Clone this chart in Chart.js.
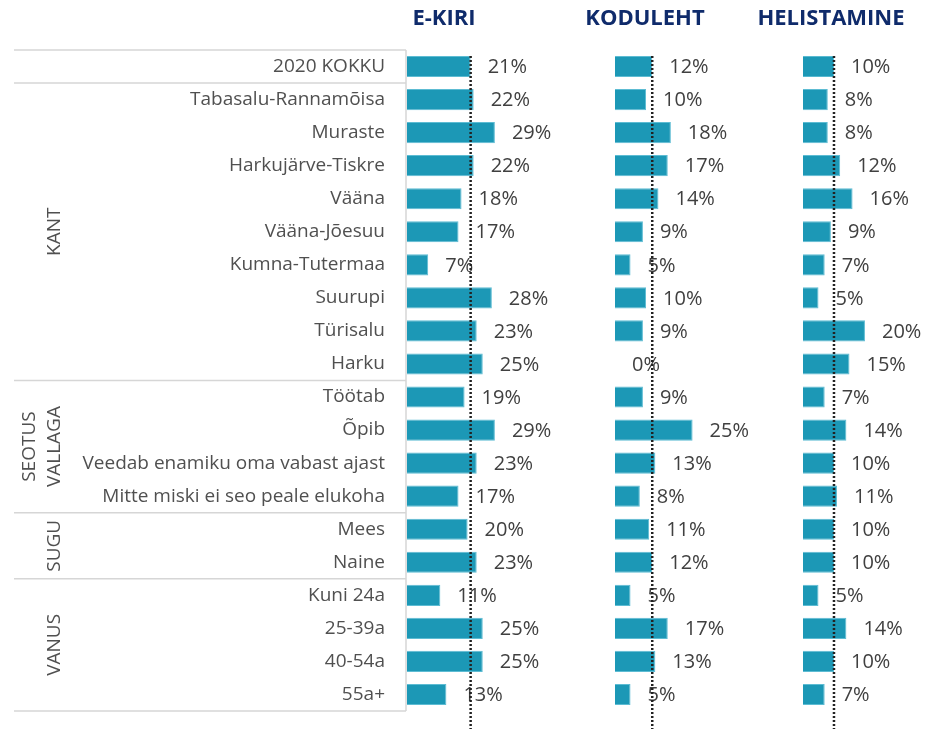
<!DOCTYPE html>
<html>
<head>
<meta charset="utf-8">
<script src="https://cdn.jsdelivr.net/npm/chart.js@4.4.1/dist/chart.umd.min.js"></script>
<style>
  html, body { margin: 0; padding: 0; background: #fff; }
  #wrap { position: relative; width: 926px; height: 729px; }
  #wrap canvas { position: absolute; left: 0; top: 0; }
</style>
</head>
<body>
<div id="wrap">
  <canvas id="c1" width="926" height="729"></canvas>
  <canvas id="c2" width="926" height="729"></canvas>
  <canvas id="c3" width="926" height="729"></canvas>
</div>
<script>
// --- data ---
const categories = ['2020 KOKKU', 'Tabasalu-Rannamõisa', 'Muraste', 'Harkujärve-Tiskre', 'Vääna',
  'Vääna-Jõesuu', 'Kumna-Tutermaa', 'Suurupi', 'Türisalu', 'Harku', 'Töötab', 'Õpib',
  'Veedab enamiku oma vabast ajast', 'Mitte miski ei seo peale elukoha', 'Mees', 'Naine',
  'Kuni 24a', '25-39a', '40-54a', '55a+'];
const eKiri      = [21, 22, 29, 22, 18, 17, 7, 28, 23, 25, 19, 29, 23, 17, 20, 23, 11, 25, 25, 13];
const koduleht   = [12, 10, 18, 17, 14, 9, 5, 10, 9, 0, 9, 25, 13, 8, 11, 12, 5, 17, 13, 5];
const helistamine = [10, 8, 8, 12, 16, 9, 7, 5, 20, 15, 7, 14, 10, 11, 10, 10, 5, 14, 10, 7];
const groupNames = [['KANT'], ['SEOTUS', 'VALLAGA'], ['SUGU'], ['VANUS']];
const groupStart = [1, 10, 14, 16];
const groupEnd   = [9, 13, 15, 19];

const barColor = '#1c98b6';
const barEdge = '#5dbcd3';
const fontFamily = '"Open Sans", "Noto Sans", sans-serif';

// title + value labels + dotted total line
const panelDecor = {
  id: 'panelDecor',
  afterDatasetsDraw(chart, args, opts) {
    const ctx = chart.ctx;
    const area = chart.chartArea;
    const meta = chart.getDatasetMeta(0);
    const values = chart.data.datasets[0].data;
    ctx.save();
    // title
    ctx.font = 'bold 22px ' + fontFamily;
    ctx.fillStyle = '#0f2b6b';
    ctx.textAlign = 'center';
    ctx.textBaseline = 'middle';
    ctx.fillText(opts.title, area.left + opts.titleX, 19);
    // value labels
    ctx.font = '20px ' + fontFamily;
    ctx.fillStyle = '#404040';
    ctx.textAlign = 'left';
    meta.data.forEach((bar, i) => {
      ctx.fillText(values[i] + '%', bar.x + 17, bar.y + 1);
    });
    // dotted line at total value
    const x = chart.scales.x.getPixelForValue(values[0]);
    ctx.strokeStyle = '#222';
    ctx.lineWidth = 2.5;
    ctx.setLineDash([2, 2]);
    ctx.beginPath();
    ctx.moveTo(x, area.top + 6);
    ctx.lineTo(x, chart.height);
    ctx.stroke();
    ctx.restore();
  }
};

// table lines and rotated group labels on the left
const tableDecor = {
  id: 'tableDecor',
  afterDraw(chart, args, opts) {
    if (!opts.show) return;
    const ctx = chart.ctx;
    const area = chart.chartArea;
    const y = chart.scales.y;
    const half = (y.getPixelForValue(1) - y.getPixelForValue(0)) / 2;
    const edge = i => y.getPixelForValue(i) + half;
    ctx.save();
    ctx.strokeStyle = '#d6d6d6';
    ctx.lineWidth = 1.5;
    const lines = [area.top, edge(0)].concat(groupEnd.map(edge));
    ctx.beginPath();
    lines.forEach(ly => { ctx.moveTo(14, ly); ctx.lineTo(area.left - 1, ly); });
    ctx.moveTo(area.left - 1, area.top);
    ctx.lineTo(area.left - 1, edge(categories.length - 1));
    ctx.stroke();

    ctx.font = '19px ' + fontFamily;
    ctx.fillStyle = '#505050';
    ctx.textAlign = 'center';
    ctx.textBaseline = 'middle';
    groupNames.forEach((name, g) => {
      const cy = (y.getPixelForValue(groupStart[g]) + y.getPixelForValue(groupEnd[g])) / 2;
      name.forEach((line, k) => {
        const cx = 55 - (name.length - 1 - k) * 25;
        ctx.save();
        ctx.translate(cx, cy);
        ctx.rotate(-Math.PI / 2);
        ctx.fillText(line, 0, 0);
        ctx.restore();
      });
    });
    ctx.restore();
  }
};

function makePanel(id, title, values, o) {
  return new Chart(document.getElementById(id), {
    type: 'bar',
    data: {
      labels: categories,
      datasets: [{
        data: values,
        backgroundColor: barColor,
        borderColor: barEdge,
        borderWidth: 1,
        barPercentage: 0.64,
        categoryPercentage: 1
      }]
    },
    options: {
      indexAxis: 'y',
      responsive: false,
      animation: false,
      devicePixelRatio: 1,
      layout: { padding: { top: 50, bottom: 18, left: o.left, right: o.right } },
      scales: {
        x: { display: false, min: 0, max: o.max },
        y: {
          display: o.table,
          grid: { display: false, drawTicks: false },
          border: { display: false },
          ticks: { color: '#505050', padding: 22, font: { family: fontFamily, size: 19 } },
          afterFit: scale => {
            if (!o.table) return;
            scale.width = 407;
            // keep the label padding from pushing the plot area
            scale.paddingTop = 0;
            scale.paddingBottom = 0;
          }
        }
      },
      plugins: {
        legend: { display: false },
        tooltip: { enabled: false },
        panelDecor: { title: title, titleX: o.titleX },
        tableDecor: { show: o.table }
      }
    },
    plugins: [panelDecor, tableDecor]
  });
}

makePanel('c1', 'E-KIRI', eKiri, { left: 0, right: 319, max: 66, titleX: 37, table: true });
makePanel('c2', 'KODULEHT', koduleht, { left: 615, right: 131, max: 58, titleX: 30, table: false });
makePanel('c3', 'HELISTAMINE', helistamine, { left: 803, right: 0, max: 39.7, titleX: 28, table: false });
</script>
</body>
</html>
